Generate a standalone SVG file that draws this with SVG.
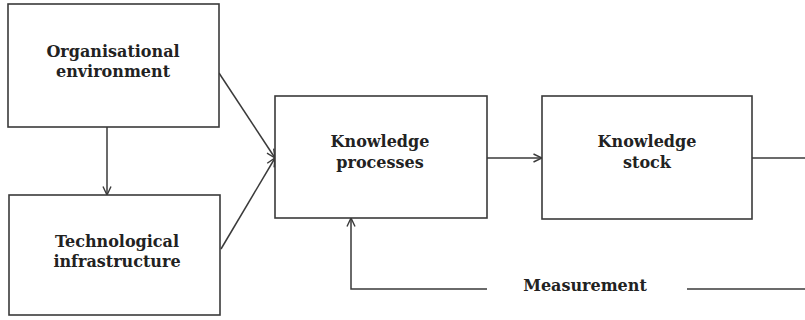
<svg xmlns="http://www.w3.org/2000/svg" width="805" height="320" viewBox="0 0 805 320">
  <style>
    .box { fill: #ffffff; stroke: #3a3a3a; stroke-width: 1.6; }
    .lbl { font-family: "DejaVu Serif", "Liberation Serif", serif; font-weight: bold; font-size: 16px; fill: #222222; text-anchor: middle; }
    .wire { fill: none; stroke: #3a3a3a; stroke-width: 1.5; }
  </style>
  <defs>
    <marker id="arrow" viewBox="0 0 10 10" refX="9.5" refY="5" markerWidth="10" markerHeight="10" markerUnits="userSpaceOnUse" orient="auto">
      <path d="M1,1 L9.5,5 L1,9" fill="none" stroke="#3a3a3a" stroke-width="1.4"/>
    </marker>
  </defs>
  <rect width="805" height="320" fill="#ffffff"/>

  <g id="connectors">
    <line class="wire" x1="107" y1="127" x2="107" y2="195" marker-end="url(#arrow)"/>
    <line class="wire" x1="219" y1="73" x2="275" y2="158" marker-end="url(#arrow)"/>
    <line class="wire" x1="221" y1="249" x2="275" y2="158" marker-end="url(#arrow)"/>
    <line class="wire" x1="487" y1="158" x2="542" y2="158" marker-end="url(#arrow)"/>
    <line class="wire" x1="752" y1="158" x2="805" y2="158"/>
    <polyline class="wire" points="487,289 351,289 351,218" marker-end="url(#arrow)"/>
    <line class="wire" x1="687" y1="289" x2="805" y2="289"/>
  </g>

  <g id="org-env">
    <rect class="box" x="8" y="4" width="211" height="123"/>
    <text class="lbl" x="113" y="57">Organisational</text>
    <text class="lbl" x="113" y="77">environment</text>
  </g>

  <g id="tech-infra">
    <rect class="box" x="9" y="195" width="211" height="120"/>
    <text class="lbl" x="117" y="247">Technological</text>
    <text class="lbl" x="117" y="267">infrastructure</text>
  </g>

  <g id="knowledge-processes">
    <rect class="box" x="275" y="96" width="212" height="122"/>
    <text class="lbl" x="380" y="147">Knowledge</text>
    <text class="lbl" x="380" y="168">processes</text>
  </g>

  <g id="knowledge-stock">
    <rect class="box" x="542" y="96" width="210" height="123"/>
    <text class="lbl" x="647" y="147">Knowledge</text>
    <text class="lbl" x="647" y="168">stock</text>
  </g>

  <g id="measurement">
    <text class="lbl" x="585" y="291">Measurement</text>
  </g>
</svg>
